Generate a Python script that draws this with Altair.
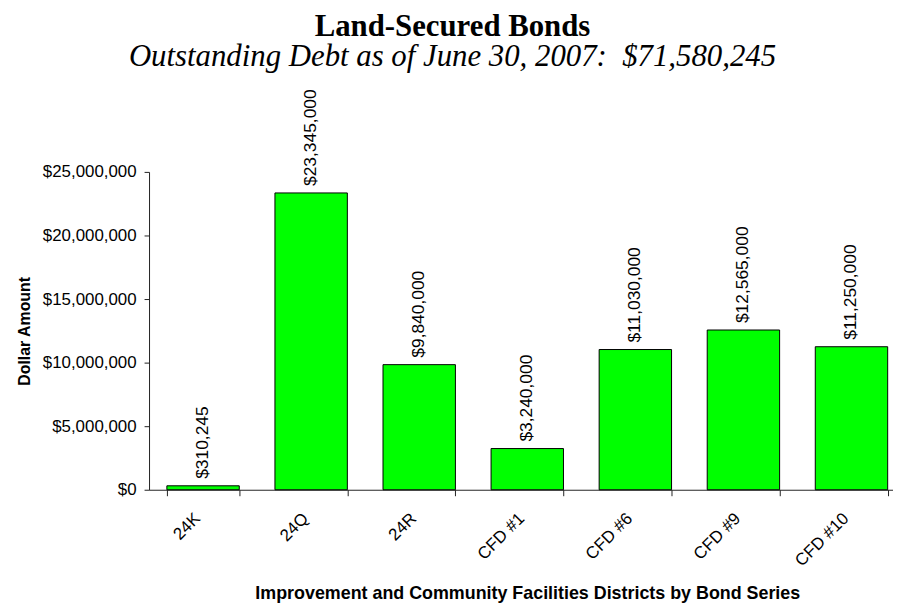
import altair as alt
import pandas as pd

series = ["24K", "24Q", "24R", "CFD #1", "CFD #6", "CFD #9", "CFD #10"]
amounts = [310245, 23345000, 9840000, 3240000, 11030000, 12565000, 11250000]
y_ticks = [0, 5000000, 10000000, 15000000, 20000000, 25000000]

df = pd.DataFrame({"series": series, "amount": amounts})

x_enc = alt.X(
    "series:N",
    sort=series,
    scale=alt.Scale(range=[0, 761.6], paddingInner=0.33, paddingOuter=0.165),
    axis=alt.Axis(
        title="Improvement and Community Facilities Districts by Bond Series",
        labelAngle=-45,
        labelAlign="right",
        labelBaseline="middle",
        labelPadding=20,
        labelOffset=-6,
        tickBand="extent",
        tickSize=6,
        titlePadding=16,
        titleFontSize=18,
    ),
)
y_enc = alt.Y(
    "amount:Q",
    scale=alt.Scale(domain=[0, 25000000], nice=False),
    axis=alt.Axis(
        title="Dollar Amount",
        values=y_ticks,
        format="$,.0f",
        tickSize=5,
        labelPadding=8,
        titlePadding=10,
        titleFontSize=16,
        grid=False,
    ),
)

bars = alt.Chart(df).mark_bar(color="#00FF00", stroke="black", strokeWidth=1).encode(
    x=x_enc, y=y_enc
)
labels = alt.Chart(df).mark_text(
    angle=270, align="left", baseline="middle", dx=7,
    font="Liberation Sans", fontSize=17.5, color="black"
).encode(
    x=alt.X("series:N", sort=series),
    y="amount:Q",
    text=alt.Text("amount:Q", format="$,.0f"),
)

chart = (
    alt.layer(bars, labels)
    .properties(
        width=749,
        height=320,
        autosize=alt.AutoSizeParams(type="none"),
        padding={"left": 142, "top": 163, "right": 0, "bottom": 112},
        title=alt.TitleParams(
            text="Land-Secured Bonds",
            subtitle="Outstanding Debt as of June 30, 2007:\u00a0 $71,580,245",
            font="Liberation Serif",
            fontSize=31,
            fontWeight="bold",
            color="black",
            subtitleFont="Liberation Serif",
            subtitleFontSize=31,
            subtitleFontStyle="italic",
            subtitleColor="black",
            subtitlePadding=0,
            anchor="middle",
            frame="group",
            offset=16,
            dx=-69,
        ),
    )
    .configure_view(stroke=None)
    .configure_axis(
        labelFont="Liberation Sans",
        labelFontSize=17,
        labelColor="black",
        titleFont="Liberation Sans",
        titleFontWeight="bold",
        titleColor="black",
        domainColor="#222222",
        tickColor="#222222",
        domainWidth=1,
        tickWidth=1,
    )
)

chart.save("out.html", embed_options={"renderer": "svg", "actions": False})
